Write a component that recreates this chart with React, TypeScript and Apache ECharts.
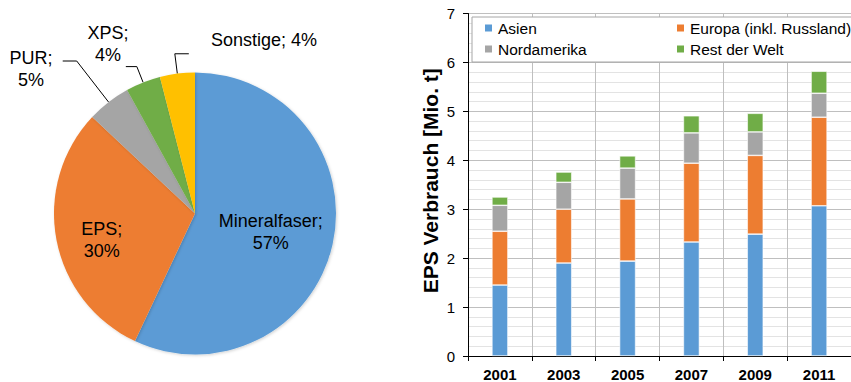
import React, { useEffect, useRef } from "react";
import * as echarts from "echarts";

const pieNames = ["Mineralfaser", "EPS", "PUR", "XPS", "Sonstige"];
const pieValues = [57, 30, 5, 4, 4];
const pieColors = ["#5B9BD5", "#ED7D31", "#A5A5A5", "#70AD47", "#FFC000"];

const years = ["2001", "2003", "2005", "2007", "2009", "2011"];
const asien = [1.45, 1.9, 1.94, 2.33, 2.49, 3.07];
const europa = [1.1, 1.1, 1.27, 1.61, 1.61, 1.81];
const nordamerika = [0.53, 0.55, 0.63, 0.62, 0.48, 0.49];
const restDerWelt = [0.17, 0.21, 0.25, 0.35, 0.38, 0.45];
const barSeriesNames = ["Asien", "Europa (inkl. Russland)", "Nordamerika", "Rest der Welt"];
const barColors = ["#5B9BD5", "#ED7D31", "#A5A5A5", "#70AD47"];

const FONT = "Liberation Sans, Arial, sans-serif";

export default function App() {
  const ref = useRef<HTMLDivElement>(null);
  useEffect(() => {
    if (!ref.current) return;
    const chart = echarts.init(ref.current, null, { renderer: "svg" });
    const lineLens = [
      null,
      null,
      { length: 52, length2: 14 },
      { length: 17, length2: 11 },
      { length: 20, length2: 14 },
    ];
    const labelPos: Record<number, { x: number; y: number }> = {
      2: { x: 31, y: 69 },
      3: { x: 108, y: 44 },
      4: { x: 264, y: 40 },
    };
    const pieData = pieNames.map((n, i) => {
      const inside = i < 2;
      return {
        name: n,
        value: pieValues[i],
        itemStyle: { color: pieColors[i] },
        label: inside
          ? { position: "inside", formatter: "{b};\n{c}%" }
          : {
              position: "outside",
              formatter: i === 4 ? "{b}; {c}%" : "{b};\n{c}%",
            },
        labelLine: inside
          ? { show: false }
          : {
              show: true,
              length: lineLens[i]!.length,
              length2: lineLens[i]!.length2,
              lineStyle: { color: "#000", width: 1 },
            },
      };
    });
    const series: any[] = [
      {
        type: "pie",
        center: [195, 213.5],
        radius: 141,
        startAngle: 90,
        clockwise: true,
        avoidLabelOverlap: false,
        itemStyle: {
          shadowBlur: 3,
          shadowColor: "rgba(0,0,0,0.18)",
          shadowOffsetX: 1,
          shadowOffsetY: 1,
        },
        label: {
          fontFamily: FONT,
          fontSize: 18,
          color: "#000",
          lineHeight: 22,
          align: "center",
        },
        labelLayout: (p: any) => {
          if (p.dataIndex === 0) return { dx: 4, dy: 2 };
          if (p.dataIndex === 1) return { dx: -21, dy: 13 };
          const pos = labelPos[p.dataIndex];
          if (!pos) return {};
          const out: any = { x: pos.x, y: pos.y, align: "center", verticalAlign: "middle" };
          const pts = p.labelLinePoints;
          if (pts && pts.length === 3) {
            if (p.dataIndex === 4) {
              out.labelLinePoints = [
                pts[0],
                pts[1],
                [pts[1][0] + (pts[1][0] - pts[2][0]), pts[1][1]],
              ];
            } else {
              out.labelLinePoints = pts;
            }
          }
          return out;
        },
        data: pieData,
      },
    ];
    const barData = [asien, europa, nordamerika, restDerWelt];
    barData.forEach((d, i) => {
      series.push({
        type: "bar",
        name: barSeriesNames[i],
        stack: "total",
        barWidth: 16,
        xAxisIndex: 0,
        yAxisIndex: 0,
        itemStyle: { color: barColors[i], borderColor: "#ffffff", borderWidth: 0.6 },
        data: d,
      });
    });
    chart.setOption({
      animation: false,
      backgroundColor: "#ffffff",
      textStyle: { fontFamily: FONT },
      legend: {
        left: 472,
        top: 17,
        data: barSeriesNames,
        orient: "horizontal",
        width: 420,
        itemWidth: 9,
        itemHeight: 9,
        itemGap: 5,
        padding: [3, 10, 5, 11],
        backgroundColor: "#ffffff",
        borderColor: "#a6a6a6",
        borderWidth: 1,
        icon: "rect",
        textStyle: {
          fontFamily: FONT,
          fontSize: 15.5,
          color: "#000",
          width: 172,
          overflow: "none",
          lineHeight: 12,
        },
      },
      grid: {
        left: 468,
        top: 13.5,
        width: 390,
        height: 343,
        containLabel: false,
      },
      xAxis: {
        type: "category",
        data: years,
        boundaryGap: true,
        axisLine: { show: true, lineStyle: { color: "#000", width: 1 } },
        axisTick: { show: true, length: 5, lineStyle: { color: "#000" } },
        axisLabel: {
          fontFamily: FONT,
          fontSize: 15,
          fontWeight: "bold",
          color: "#000",
          margin: 11,
          interval: 0,
        },
        splitLine: { show: true, interval: 0, lineStyle: { color: "#bfbfbf", width: 1 } },
      },
      yAxis: {
        type: "value",
        min: 0,
        max: 7,
        interval: 1,
        name: "EPS Verbrauch [Mio. t]",
        nameLocation: "middle",
        nameGap: 27,
        nameTextStyle: {
          fontFamily: FONT,
          fontSize: 21,
          fontWeight: "bold",
          color: "#000",
          padding: [0, 0, 0, 8],
        },
        axisLine: { show: true, lineStyle: { color: "#000", width: 1 } },
        axisTick: { show: true, length: 5, lineStyle: { color: "#000" } },
        axisLabel: { fontFamily: FONT, fontSize: 15, color: "#000", margin: 13 },
        splitLine: { show: true, lineStyle: { color: "#bfbfbf", width: 1 } },
        minorTick: { show: false, splitNumber: 5 },
        minorSplitLine: { show: true, lineStyle: { color: "#e3e3e3", width: 1 } },
      },
      series,
    });
    return () => chart.dispose();
  }, []);
  return (
    <div
      ref={ref}
      style={{ position: "fixed", left: 0, top: 0, width: 851, height: 382 }}
    />
  );
}
